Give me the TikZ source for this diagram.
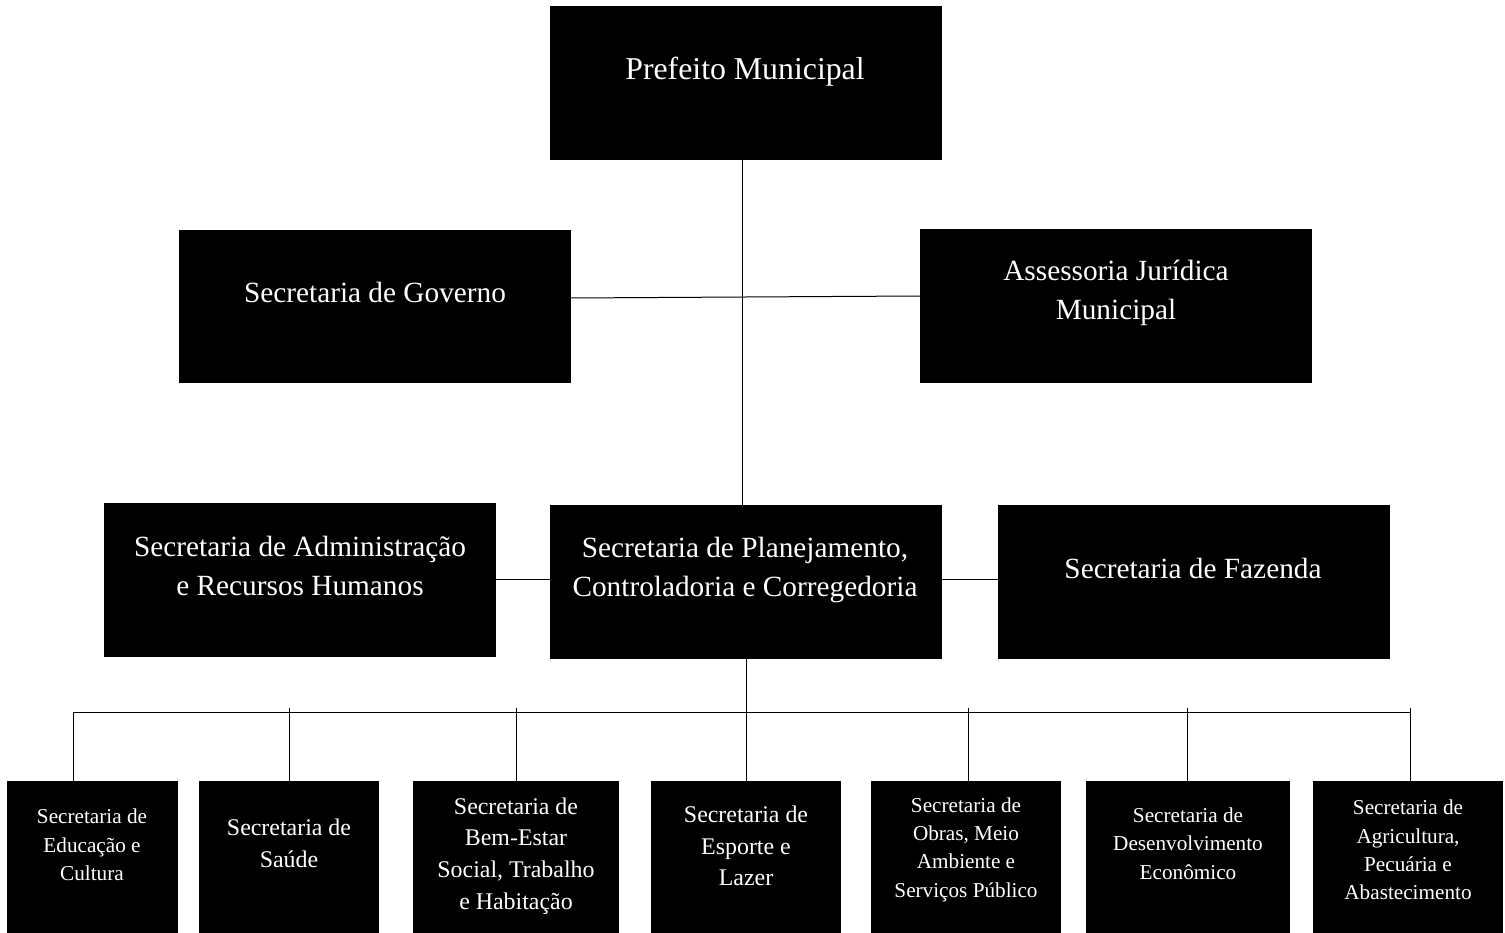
\documentclass[tikz,border=0pt]{standalone}
\usepackage{fontspec}
\setmainfont{Liberation Serif}
\begin{document}
\begin{tikzpicture}[x=1pt,y=-1pt,
  box/.style={fill=black,draw=none,inner sep=0pt,outer sep=0pt},
  lbl/.style={text=white,align=center,inner sep=0pt},
  huge/.style={lbl,font=\fontsize{31.8}{40}\selectfont},
  big/.style={lbl,font=\fontsize{29.3}{39.5}\selectfont},
  mid/.style={lbl,font=\fontsize{23.9}{31.8}\selectfont},
  small/.style={lbl,font=\fontsize{21.2}{28.3}\selectfont},
  conn/.style={draw=black,line width=1pt}]
\useasboundingbox (0,0) rectangle (1505,933);
% boxes
\node[box,minimum width=392pt,minimum height=154pt] (pref) at (746,83) {};
\node[box,minimum width=392pt,minimum height=153pt] (gov) at (375,306.5) {};
\node[box,minimum width=392pt,minimum height=154pt] (ass) at (1116,306) {};
\node[box,minimum width=392pt,minimum height=154pt] (adm) at (300,580) {};
\node[box,minimum width=392pt,minimum height=154pt] (plan) at (746,582) {};
\node[box,minimum width=392pt,minimum height=154pt] (faz) at (1194,582) {};
\node[box,minimum width=171pt,minimum height=152pt] (b1) at (92.5,857) {};
\node[box,minimum width=180pt,minimum height=152pt] (b2) at (289,857) {};
\node[box,minimum width=206pt,minimum height=152pt] (b3) at (516,857) {};
\node[box,minimum width=190pt,minimum height=152pt] (b4) at (746,857) {};
\node[box,minimum width=190pt,minimum height=152pt] (b5) at (966,857) {};
\node[box,minimum width=204pt,minimum height=152pt] (b6) at (1188,857) {};
\node[box,minimum width=190pt,minimum height=152pt] (b7) at (1408,857) {};
% texts
\node[huge] (tpref) at (745,72) {Prefeito Municipal};
\node[big] (tgov) at (375,292) {Secretaria de Governo};
\node[big] (tass) at (1116,293) {Assessoria Jurídica\\Municipal};
\node[big] (tadm) at (300,566) {Secretaria de Administração\\e Recursos Humanos};
\node[big] (tplan) at (745,570) {Secretaria de Planejamento,\\Controladoria e Corregedoria};
\node[big] (tfaz) at (1193,568) {Secretaria de Fazenda};
\node[small] (t1) at (92,845) {Secretaria de\\Educação e\\Cultura};
\node[mid] (t2) at (289,843.5) {Secretaria de\\Saúde};
\node[mid] (t3) at (516,856) {Secretaria de\\Bem-Estar\\Social, Trabalho\\e Habitação};
\node[mid] (t4) at (746,846) {Secretaria de\\Esporte e\\Lazer};
\node[small] (t5) at (966,849.5) {Secretaria de\\Obras, Meio\\Ambiente e\\Serviços Público};
\node[small] (t6) at (1188,843.5) {Secretaria de\\Desenvolvimento\\Econômico};
\node[small] (t7) at (1408,850) {Secretaria de\\Agricultura,\\Pecuária e\\Abastecimento};
% connectors
\draw[conn] ([xshift=-4pt]pref.south) -- ([xshift=-4pt]plan.north);
\draw[conn] ([yshift=8.5pt]gov.east) -- ([yshift=10pt]ass.west);
\draw[conn] ([yshift=1pt]adm.east) -- ([yshift=1pt]adm.east -| plan.west);
\draw[conn] ([yshift=3pt]plan.east) -- ([yshift=3pt]plan.east -| faz.west);
\draw[conn] (plan.south) -- (plan.south |- b4.north);
\coordinate (busL) at (73,712);
\coordinate (busR) at (1410,712);
\draw[conn] (busL) -- (busR);
\draw[conn] (busL) -- (busL |- b1.north);
\draw[conn] ([yshift=4pt]b2.north |- busL) -- (b2.north);
\draw[conn] ([yshift=4pt]b3.north |- busL) -- (b3.north);
\draw[conn] ([yshift=4pt,xshift=2pt]b5.north |- busL) -- ([xshift=2pt]b5.north);
\draw[conn] ([yshift=4pt,xshift=-1pt]b6.north |- busL) -- ([xshift=-1pt]b6.north);
\draw[conn] ([yshift=4pt]busR) -- (busR |- b7.north);
\end{tikzpicture}
\end{document}
